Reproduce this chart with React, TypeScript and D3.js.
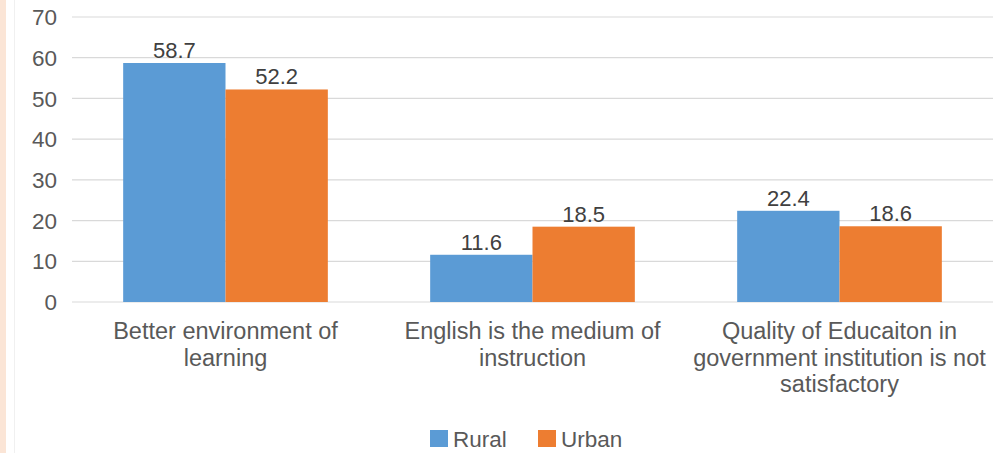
import React from 'react';
import * as d3 from 'd3';

const categories = [
	['Better environment of', 'learning'],
	['English is the medium of', 'instruction'],
	['Quality of Educaiton in', 'government institution is not', 'satisfactory'],
];
const seriesNames = ['Rural', 'Urban'];
const rural = [58.7, 11.6, 22.4];
const urban = [52.2, 18.5, 18.6];
const yTicks = [0, 10, 20, 30, 40, 50, 60, 70];
const colors = ['#5B9BD5', '#ED7D31'];

function App() {
	const W = 996;
	const H = 453;
	const left = 72;
	const right = 993;
	const top = 17;
	const bottom = 302;

	const x = d3.scaleBand<number>()
		.domain(d3.range(categories.length))
		.range([left, right])
		.paddingInner(0)
		.paddingOuter(0);
	const inner = d3.scaleBand<number>()
		.domain([0, 1])
		.range([0, x.bandwidth()])
		.paddingOuter(0.5)
		.paddingInner(0);
	const y = d3.scaleLinear().domain([0, 70]).range([bottom, top]);

	const values = [rural, urban];
	const font = '"Liberation Sans", Arial, sans-serif';
	const txt = '#595959';

	return (
		<div style={{ position: 'fixed', left: 0, top: 0, width: W, height: H, background: '#fff' }}>
			<svg width={W} height={H} style={{ display: 'block', fontFamily: font }}>
				<rect x={0} y={0} width={6} height={H} fill="#FBE5D6" />
				<line x1={14.5} x2={14.5} y1={0} y2={H} stroke="#f0f0f0" />
				{yTicks.map(t => (
					<g key={t}>
						<line x1={left} x2={right} y1={y(t)} y2={y(t)} stroke="#d9d9d9" strokeWidth={1.2} />
						<text x={57} y={y(t)} dy="0.36em" textAnchor="end" fontSize={22.5} fill={txt}>{t}</text>
					</g>
				))}
				{values.map((vals, s) => vals.map((v, i) => {
					const bx = (x(i) as number) + (inner(s) as number);
					return (
						<g key={`${s}-${i}`}>
							<rect x={bx} y={y(v)} width={inner.bandwidth()} height={y(0) - y(v)} fill={colors[s]} />
							<text x={bx + inner.bandwidth() / 2} y={y(v) - 5} textAnchor="middle" fontSize={22} fill="#404040">{v.toFixed(1)}</text>
						</g>
					);
				}))}
				{categories.map((lines, i) => (
					<text key={i} x={(x(i) as number) + x.bandwidth() / 2} y={339} textAnchor="middle" fontSize={23.5} fill={txt}>
						{lines.map((l, j) => (
							<tspan key={j} x={(x(i) as number) + x.bandwidth() / 2} dy={j === 0 ? 0 : 26.5}>{l}</tspan>
						))}
					</text>
				))}
				<g>
					<rect x={430} y={430} width={18} height={17} fill={colors[0]} />
					<text x={453} y={447} fontSize={22.5} fill={txt}>{seriesNames[0]}</text>
					<rect x={538} y={430} width={18} height={17} fill={colors[1]} />
					<text x={561} y={447} fontSize={22.5} fill={txt}>{seriesNames[1]}</text>
				</g>
			</svg>
		</div>
	);
}

export default App;
